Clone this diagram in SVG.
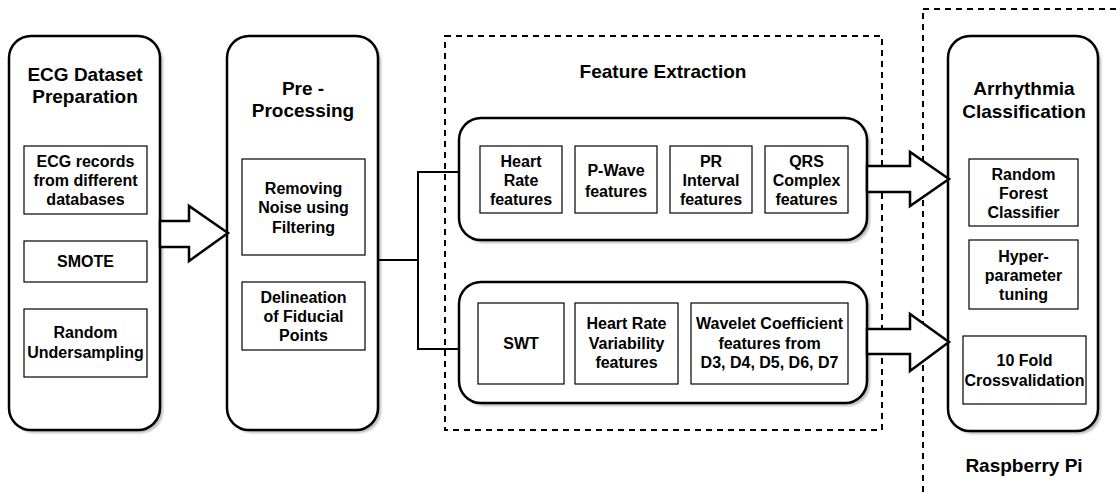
<svg xmlns="http://www.w3.org/2000/svg" width="1120" height="497" viewBox="0 0 1120 497">
<defs>
<filter id="sh" x="-10%" y="-10%" width="130%" height="130%"><feGaussianBlur stdDeviation="1.2"/></filter>
</defs>
<style>
.node{fill:#fff;stroke:#000;stroke-width:2.5}
.shadow{fill:#bbb;stroke:none;filter:url(#sh)}
.box{fill:#fff;stroke:#000;stroke-width:1.2}
.dash{fill:none;stroke:#000;stroke-width:2;stroke-dasharray:6 5}
.t{font-family:"Liberation Sans",Arial,sans-serif;font-weight:bold;text-anchor:middle;fill:#000}
.title{font-size:19px}
.small{font-size:16px}
.conn{fill:none;stroke:#000;stroke-width:2}
.barrow{fill:#fff;stroke:#000;stroke-width:2.5;stroke-linejoin:miter}
</style>
<rect width="1120" height="497" fill="#fff"/>

<g id="raspberry-pi">
<rect class="dash" x="923" y="9" width="220" height="500"/>
<text class="t title" x="1024" y="472">Raspberry Pi</text>
</g>

<g id="feature-extraction">
<rect class="dash" x="445" y="36" width="437" height="394"/>
<text class="t title" x="663" y="78">Feature Extraction</text>
</g>

<g id="ecg-dataset-preparation">
<rect class="shadow" x="12" y="39" width="151" height="394" rx="22"/>
<rect class="node" x="9" y="36" width="151" height="394" rx="22"/>
<text class="t title" x="85" y="81">ECG Dataset</text>
<text class="t title" x="85" y="103">Preparation</text>
<rect class="box" x="24" y="146" width="123" height="68"/>
<text class="t small" x="85.5" y="167">ECG records</text>
<text class="t small" x="85.5" y="186">from different</text>
<text class="t small" x="85.5" y="205">databases</text>
<rect class="box" x="24" y="241" width="123" height="41"/>
<text class="t small" x="85.5" y="267">SMOTE</text>
<rect class="box" x="24" y="309" width="123" height="68"/>
<text class="t small" x="85.5" y="338">Random</text>
<text class="t small" x="85.5" y="358">Undersampling</text>
</g>

<g id="pre-processing">
<rect class="shadow" x="230" y="39" width="151" height="394" rx="22"/>
<rect class="node" x="227" y="36" width="151" height="394" rx="22"/>
<text class="t title" x="303" y="95">Pre -</text>
<text class="t title" x="303" y="117">Processing</text>
<rect class="box" x="242" y="159" width="123" height="96"/>
<text class="t small" x="303.5" y="194">Removing</text>
<text class="t small" x="303.5" y="213">Noise using</text>
<text class="t small" x="303.5" y="233">Filtering</text>
<rect class="box" x="242" y="282" width="123" height="68"/>
<text class="t small" x="303.5" y="303">Delineation</text>
<text class="t small" x="303.5" y="322">of Fiducial</text>
<text class="t small" x="303.5" y="341">Points</text>
</g>

<g id="time-domain-features">
<rect class="shadow" x="462" y="121" width="408" height="122" rx="22"/>
<rect class="node" x="459" y="118" width="408" height="122" rx="22"/>
<rect class="box" x="480" y="146" width="82" height="67"/>
<text class="t small" x="521" y="167">Heart</text>
<text class="t small" x="521" y="186">Rate</text>
<text class="t small" x="521" y="205">features</text>
<rect class="box" x="575" y="146" width="82" height="67"/>
<text class="t small" x="616" y="176">P-Wave</text>
<text class="t small" x="616" y="197">features</text>
<rect class="box" x="670" y="146" width="82" height="67"/>
<text class="t small" x="711" y="167">PR</text>
<text class="t small" x="711" y="186">Interval</text>
<text class="t small" x="711" y="205">features</text>
<rect class="box" x="765" y="146" width="83" height="67"/>
<text class="t small" x="806.5" y="167">QRS</text>
<text class="t small" x="806.5" y="186">Complex</text>
<text class="t small" x="806.5" y="205">features</text>
</g>

<g id="wavelet-features">
<rect class="shadow" x="462" y="285" width="408" height="121" rx="22"/>
<rect class="node" x="459" y="282" width="408" height="121" rx="22"/>
<rect class="box" x="478" y="303" width="86" height="81"/>
<text class="t small" x="521" y="349">SWT</text>
<rect class="box" x="575" y="303" width="103" height="81"/>
<text class="t small" x="626.5" y="329">Heart Rate</text>
<text class="t small" x="626.5" y="349">Variability</text>
<text class="t small" x="626.5" y="368">features</text>
<rect class="box" x="691" y="303" width="157" height="81"/>
<text class="t small" x="769.5" y="329">Wavelet Coefficient</text>
<text class="t small" x="769.5" y="349">features from</text>
<text class="t small" x="769.5" y="368">D3, D4, D5, D6, D7</text>
</g>

<g id="arrhythmia-classification">
<rect class="shadow" x="951" y="39" width="150" height="395" rx="22"/>
<rect class="node" x="948" y="36" width="150" height="395" rx="22"/>
<text class="t title" x="1024" y="95">Arrhythmia</text>
<text class="t title" x="1024" y="118">Classification</text>
<rect class="box" x="969" y="159" width="109" height="67"/>
<text class="t small" x="1023.5" y="180">Random</text>
<text class="t small" x="1023.5" y="199">Forest</text>
<text class="t small" x="1023.5" y="218">Classifier</text>
<rect class="box" x="969" y="240" width="109" height="69"/>
<text class="t small" x="1023.5" y="262">Hyper-</text>
<text class="t small" x="1023.5" y="281">parameter</text>
<text class="t small" x="1023.5" y="300">tuning</text>
<rect class="box" x="963" y="336" width="123" height="68"/>
<text class="t small" x="1024.5" y="366">10 Fold</text>
<text class="t small" x="1024.5" y="386">Crossvalidation</text>
</g>

<g id="connectors">
<polyline class="conn" points="378,260 418,260"/>
<polyline class="conn" points="459,172 418,172 418,349 459,349"/>
<polygon class="barrow" points="160,221 189,221 189,206 228,233 189,261 189,247 160,247"/>
<polygon class="barrow" points="867,166 910,166 910,152 949,179 910,206 910,192 867,192"/>
<polygon class="barrow" points="867,329 910,329 910,314 949,342 910,371 910,354 867,354"/>
</g>
</svg>
